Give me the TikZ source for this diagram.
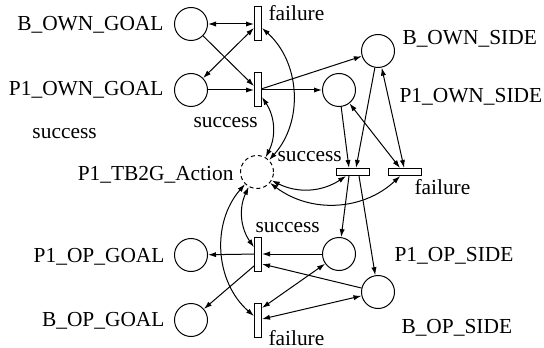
\documentclass[tikz,border=0pt]{standalone}
\usepackage{fontspec}
\setmainfont{Liberation Serif}
\usetikzlibrary{arrows.meta}

\tikzset{
  place/.style={circle, draw, minimum size=16.5pt, inner sep=0pt},
  vtrans/.style={rectangle, draw, fill=white, minimum width=3.5pt, minimum height=17pt, inner sep=0pt},
  htrans/.style={rectangle, draw, fill=white, minimum width=16.5pt, minimum height=3.5pt, inner sep=0pt},
  lbl/.style={inner sep=0pt, font=\fontsize{10.7}{12}\selectfont},
}

\begin{document}
\begin{tikzpicture}[x=0.5pt, y=0.5pt, line width=0.5pt, >={Latex[length=4pt,width=2.6pt]}]
    \useasboundingbox (0,0) rectangle (544,-347);
    % places
    \node[place] (bOwnGoal) at (191,-24) {};
    \node[place] (pOwnGoal) at (191,-90) {};
    \node[place] (bOwnSide) at (378,-51) {};
    \node[place] (pOwnSide) at (339,-90) {};
    \node[place, dash pattern=on 2pt off 1.5pt] (act) at (257,-172) {};
    \node[place] (pOpGoal) at (191,-255) {};
    \node[place] (bOpGoal) at (191,-320) {};
    \node[place] (pOpSide) at (339,-254) {};
    \node[place] (bOpSide) at (378,-292) {};
    % transitions
    \node[vtrans] (fTop) at (258,-24) {};
    \node[vtrans] (sTop) at (258,-90) {};
    \node[htrans] (sMid) at (353,-172) {};
    \node[htrans] (fMid) at (405,-172) {};
    \node[vtrans] (sBot) at (258,-254) {};
    \node[vtrans] (fBot) at (258,-320) {};
    % labels
    \node[lbl, anchor=base east] (tBOwnGoal) at (164,-31) {B\_OWN\_GOAL};
    \node[lbl, anchor=base east] (tPOwnGoal) at (164,-96) {P1\_OWN\_GOAL};
    \node[lbl, anchor=base west] (tFTop) at (268,-21) {failure};
    \node[lbl, anchor=base west] (tSTop) at (193,-127) {success};
    \node[lbl, anchor=base west] (tSLeft) at (32,-139) {success};
    \node[lbl, anchor=base east] (tAct) at (234,-180) {P1\_TB2G\_Action};
    \node[lbl, anchor=base west] (tSMid) at (277,-162) {success};
    \node[lbl, anchor=base west] (tBOwnSide) at (402,-45) {B\_OWN\_SIDE};
    \node[lbl, anchor=base west] (tPOwnSide) at (399,-103) {P1\_OWN\_SIDE};
    \node[lbl, anchor=base west] (tFMid) at (414,-194) {failure};
    \node[lbl, anchor=base west] (tSBot) at (255,-232) {success};
    \node[lbl, anchor=base west] (tPOpSide) at (394,-261) {P1\_OP\_SIDE};
    \node[lbl, anchor=base west] (tBOpSide) at (401,-333) {B\_OP\_SIDE};
    \node[lbl, anchor=base west] (tFBot) at (268,-345) {failure};
    \node[lbl, anchor=base east] (tPOpGoal) at (165,-262) {P1\_OP\_GOAL};
    \node[lbl, anchor=base east] (tBOpGoal) at (165,-326) {B\_OP\_GOAL};
    % arcs, own side
    \draw[<->] (bOwnGoal) -- (fTop);
    \draw[->] (bOwnGoal) -- (sTop);
    \draw[<->] (fTop) -- (pOwnGoal);
    \draw[->] (pOwnGoal) -- (sTop);
    \draw[->] (sTop) -- (pOwnSide);
    \draw[->] (sTop) -- (bOwnSide);
    \draw[<->] (fTop) to[bend left=45] (act);
    \draw[<->] (sTop) to[bend left=30] (act);
    % arcs, middle
    \draw[<->] (act) to[bend right=30] (sMid);
    \draw[<->] (act) to[bend right=40] (fMid);
    \draw[->] (bOwnSide) -- ([xshift=1.5pt]sMid.north);
    \draw[->] (pOwnSide) -- ([xshift=-2pt]sMid.north);
    \draw[<->] (pOwnSide) -- ([xshift=-2.5pt]fMid.north);
    \draw[<->] (bOwnSide) -- (fMid);
    \draw[->] ([xshift=-2pt]sMid.south) -- (pOpSide);
    \draw[->] ([xshift=3pt]sMid.south) -- (bOpSide);
    % arcs, opponent side
    \draw[->] (pOpSide) -- (sBot);
    \draw[->] (sBot) -- (pOpGoal);
    \draw[->] ([yshift=-6pt]sBot.west) -- (bOpGoal);
    \draw[->] (bOpSide) -- ([yshift=-5pt]sBot.east);
    \draw[<->] (pOpSide) -- ([yshift=6pt]fBot.east);
    \draw[<->] (bOpSide) -- (fBot);
    \draw[<->] (act) to[bend right=30] (sBot);
    \draw[<->] (act) to[bend right=45] (fBot);
\end{tikzpicture}
\end{document}
